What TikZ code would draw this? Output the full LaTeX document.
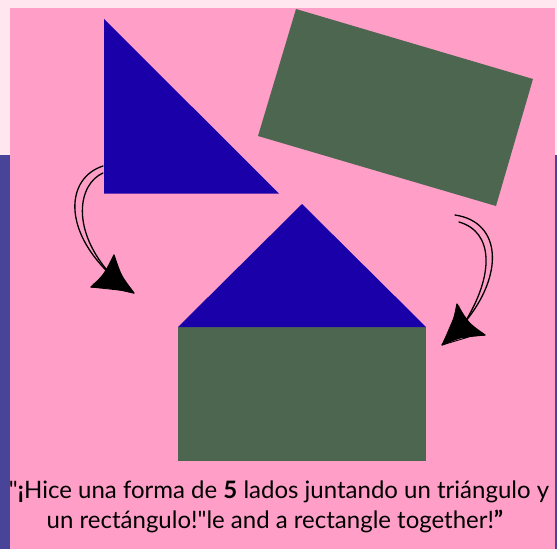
\documentclass[tikz,border=0pt]{standalone}
\usepackage{fontspec}
\setmainfont{Lato}[Ligatures=TeXOff]
\definecolor{outerpink}{HTML}{FFE6EF}
\definecolor{mainpink}{HTML}{FF9FC8}
\definecolor{sidebar}{HTML}{47449A}
\definecolor{shapeblue}{HTML}{1A00A8}
\definecolor{shapegreen}{HTML}{4D6650}
\begin{document}
\begin{tikzpicture}[x=1pt,y=-1pt,
  bluefill/.style={fill=shapeblue},
  greenfill/.style={fill=shapegreen},
  sketch/.style={draw=black,line width=1.3pt,line cap=round},
  headfill/.style={fill=black,draw=black,line width=1.2pt,line join=round},
  caption/.style={anchor=base,inner sep=0pt,font=\fontsize{24}{28}\selectfont}]
\useasboundingbox (0,0) rectangle (557,549);
% backgrounds
\fill[outerpink] (0,0) rectangle (557,549);
\fill[sidebar] (0,155) rectangle (10,549);
\fill[sidebar] (555,155) rectangle (557,549);
\fill[mainpink] (10,8) rectangle (555,549);
% top shapes
\fill[bluefill] (104,19) -- (104,193.5) -- (279,193.5) -- cycle;
\fill[greenfill] (296,9) -- (533,79) -- (496,206) -- (258,136) -- cycle;
% house
\fill[greenfill] (178,327) rectangle (426,461);
\fill[bluefill] (302,204) -- (426,327) -- (178,327) -- cycle;
% left arrow
\coordinate (la1) at (103,166);
\coordinate (la2) at (103,173);
\coordinate (laend) at (112,276);
\coordinate (lht) at (114,255);
\coordinate (lhp) at (134,293);
\coordinate (lhl) at (91,287);
\draw[sketch] (la1) .. controls (66,178) and (62,230) .. (laend);
\draw[sketch] (la2) .. controls (78,184) and (70,230) .. (laend);
\path[headfill] (lht) .. controls (121,276) .. (lhp) .. controls (113,288) .. (lhl) .. controls (104,275) .. cycle;
\draw[sketch,line width=0.9pt] (lhl) -- (128,291) (93,284) -- (lhp) (lht) -- (118,286);
% right arrow
\coordinate (ra1) at (455,215);
\coordinate (ra2) at (459,222);
\coordinate (raend) at (465,322);
\coordinate (rht) at (457,304);
\coordinate (rhp) at (442,345);
\coordinate (rhr) at (485,335);
\draw[sketch] (ra1) .. controls (502,222) and (504,275) .. (raend);
\draw[sketch] (ra2) .. controls (494,232) and (494,275) .. (raend);
\path[headfill] (rht) .. controls (468,323) .. (rhr) .. controls (463,336) .. (rhp) .. controls (453,324) .. cycle;
\draw[sketch,line width=0.9pt] (rhp) -- (482,333) (444,341) -- (459,306) (rhr) -- (447,339);
% caption
\node[caption] (line1) at (279,498.6) {"\textbf{¡}Hice una forma de \textbf{5} lados juntando un triángulo y};
\node[caption] (line2) at (275,528) {un rectángulo!"le and a rectangle together!\textbf{”}};
\end{tikzpicture}
\end{document}
